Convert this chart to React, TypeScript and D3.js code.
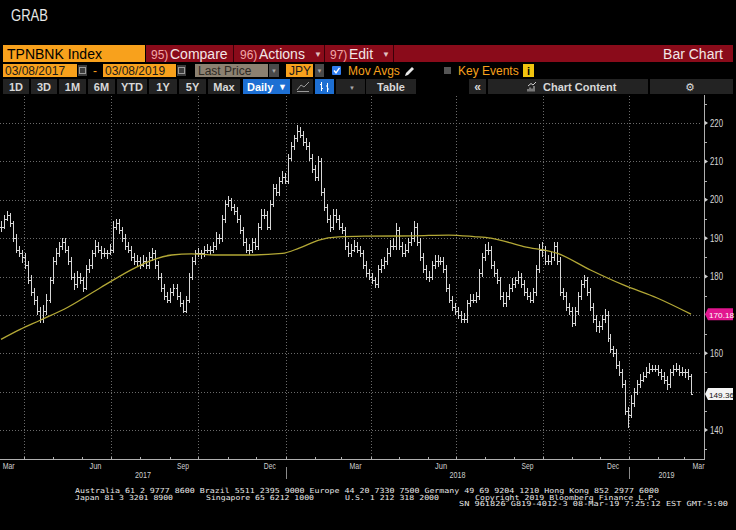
import React from 'react';
import * as d3 from 'd3';

// ---------- DATA ----------
const rangeStart = '2017-03-08';
const rangeEnd = '2019-03-08';

// bar closes (one bar every ~3.2 calendar days)
const closes = [193,195,196,194,190,187,186,185,183,179, 176,174,171,169,171,174,179,184,186,188, 189,187,184,180,178,180,179,177,182,183, 186,188,187,186,186,186,187,193,194,192, 190,188,187,185,184,184,183,184,183,185, 186,183,180,177,175,174,176,177,175,173, 171,174,180,184,186,186,186,187,187,187, 188,190,190,195,199,200,198,197,195,192, 189,187,187,189,188,193,196,196,193,199, 203,202,205,206,205,211,214,216,218,217, 215,214,211,208,206,210,202,198,195,193, 196,195,193,192,188,186,187,188,187,186, 183,181,180,179,178,182,183,184,186,188, 188,192,188,186,187,189,190,193,189,185, 182,180,180,183,184,184,184,182,177,174, 172,171,170,169,169,173,174,174,175,181, 185,187,187,183,181,179,175,173,175,177, 178,179,180,178,176,175,174,176,182,187, 187,184,184,185,188,184,176,175,172,171, 168,171,175,178,179,176,172,169,167,167, 169,170,164,161,160,157,155,152,145,144, 147,150,152,153,154,155,156,156,156,155, 154,153,152,155,156,156,155,155,155,154, 149.36];

const highs = [194.5,196,197,196.5,194.5,191,188,187,186,184, 180.5,177,175,172,172.5,175.5,180,185,187.5,189, 190,190,188,185,181,181.5,181,180,183,184.5, 187,189.5,189,188,187.5,187,188.5,194.5,195,195, 193,191,189,188,186,185.5,185,185.5,185,186.5, 187.5,187,184,181,178,176,177,178,178,176, 174,175,181,185,187,187.5,187,188,188.5,188, 189,191.5,191,196,200,201,200.5,199,198,196, 193,190,188.5,190,190,194,197.5,197.5,197,200, 204,204,206,207.5,207,212,215,217,219.5,219, 218,216,215,212,209,211.5,211,203,199,196, 197.5,197.5,196,194,193,189,188.5,189.5,189,188, 187,184,182,181,180,183,184.5,185,187.5,189.5, 190,194,193,189,188.5,190,191.5,194.5,194,190, 186,183,181.5,184,185.5,185.5,185,185,183,178, 175,173,172,171,170.5,174,175.5,175.5,176,182, 186,188.5,189,188,184,182,180,176,176,178, 179.5,180,181.5,181,179,177,176,177,183,188.5, 189,188,185.5,186.5,189,189,185,177,176,173, 172,172,176,179,180.5,180,177,173,170,168.5, 170,171.5,171,165,162,161,158,156,153,146, 149,151,153,154.5,155,156.5,157.5,157,157,157, 156,155,154,156,157,157.5,157,156.5,156,156, 154.5];

const lows = [191.5,192.5,194.5,193,189,186,185,183.5,182,178, 175,172.5,170,167.8,168,170,173,178,183,185, 187,186,183,179,176.5,177,178,176,176.5,181, 182,185,186,184.5,185,184.5,185.5,186,192,191, 189,187,186,184,183,182.5,182,182.5,182,182, 184,182,179,176,174,173,173,175,174,172, 170.5,170.5,173,179,183,185,184.5,185,186,185.5, 186,187,188.5,189,194,198,197,196,194,191, 188,186,185.5,186,187,187,192,195,192,192, 198,201,201,204,204,204,210,213,215,216, 214,213,210,207,205,205,201,197,194,191.5, 192,194,192,191,187,185,185,186.5,186,185, 182,180,179,178,177,177,181,182,183,185, 187,187,187,185,185,186,188,189,188,184, 181,179,178.5,179,182,182.5,183,181,176,173, 171,170,169,167.8,168,168,172,173,173,174, 180,184,185.5,182,180,178,174,172,172,174, 176,177,178,177,175,174,173,173,175,181, 185,183,183,183,184,183,175,174,171,170, 166.8,167,170,174,177,175,171,168,165.5,165.3, 166,168,163,160,159,156,154,151,144,140.5, 143,146,149,151,152.5,153.5,154.5,155,155,154, 153,152,150.5,151,154,155,154,154,153.5,153, 149];

// moving average
const maDates = ['2017-03-08','2017-03-28','2017-04-18','2017-05-17','2017-06-21','2017-07-26','2017-08-13','2017-09-03','2017-09-24','2017-10-18','2017-11-26','2017-12-28','2018-01-15','2018-02-05','2018-02-26','2018-03-26','2018-05-18','2018-06-23','2018-07-20','2018-08-07','2018-09-11','2018-10-17','2018-11-21','2018-12-26','2019-01-31','2019-03-08'];
const maValues = [163.6,166.2,168.6,172,177.2,182.2,184.2,185.6,185.9,185.6,185.6,186,187.4,189.5,190.3,190.5,190.6,190.8,190.4,190,187.8,186,181.7,177.8,174.4,170.18];

const yTicks = [140,150,160,170,180,190,200,210,220];
const yMinorTicks = [135,145,155,165,175,185,195,205,215,225];
const gridDates = ['2017-04-01','2017-07-01','2017-10-01','2018-01-01','2018-04-01','2018-07-01','2018-10-01','2019-01-01'];
const monthLabels = ['Mar','Jun','Sep','Dec','Mar','Jun','Sep','Dec','Mar'];
const monthLabelDates = ['2017-03-16','2017-06-15','2017-09-15','2017-12-15','2018-03-16','2018-06-15','2018-09-15','2018-12-15','2019-03-16'];
const yearLabels = ['2017','2018','2019'];
const yearDividers = ['2018-01-01','2019-01-01'];
const lastMA = 170.18;
const lastPrice = 149.36;

const footer1 = 'Australia 61 2 9777 8600 Brazil 5511 2395 9000 Europe 44 20 7330 7500 Germany 49 69 9204 1210 Hong Kong 852 2977 6000';
const footer2 = ['Japan 81 3 3201 8900', 'Singapore 65 6212 1000', 'U.S. 1 212 318 2000', 'Copyright 2019 Bloomberg Finance L.P.'];
const footer3 = 'SN 961826 G819-4012-3 08-Mar-19  7:25:12 EST  GMT-5:00';

const periodButtons = ['1D','3D','1M','6M','YTD','1Y','5Y','Max'];

// ---------- LAYOUT ----------
const W = 736, H = 530;
const plotTop = 96, plotBottom = 459, axisX = 704;
const parse = d3.timeParse('%Y-%m-%d');

const FONT = '"Liberation Sans Narrow", "Liberation Sans", Arial, sans-serif';
const UIFONT = '"Liberation Sans", Arial, sans-serif';
const ORANGE = '#f8a11c';
const RED = '#8a0b1a';

export default function App() {
  const x = d3.scaleTime()
    .domain([parse('2017-03-08')!, parse('2017-04-01')!, parse('2018-01-01')!, parse('2019-01-01')!, parse('2019-03-08')!])
    .range([1, 24, 286, 629, 691]);
  const y = d3.scaleLinear().domain([140, 220]).range([430, 123]);

  const t0 = parse(rangeStart)!.getTime();
  const t1 = parse(rangeEnd)!.getTime();
  const n = closes.length;
  const barDates = d3.range(n).map(i => new Date(t0 + (t1 - t0) * i / (n - 1)));

  const maLine = d3.line<number>()
    .x((_, i) => x(parse(maDates[i])!))
    .y(v => y(v))
    .curve(d3.curveMonotoneX);

  const monthTicks = d3.timeMonth.range(parse('2017-04-01')!, parse('2019-03-02')!);
  const px = (v: number) => Math.round(v) + 0.5;

  // tick labels hidden behind the last-value tags
  const visibleTicks = yTicks.filter(v => Math.abs(y(v) - y(lastMA)) > 10 && Math.abs(y(v) - y(lastPrice)) > 10);

  const btnX = [3, 31, 59, 88, 117, 149, 179, 208];
  const btnW = [26, 26, 27, 27, 30, 28, 27, 32];

  return (
    <svg width={W} height={H} style={{ position: 'absolute', left: 0, top: 0, display: 'block', background: '#000' }}>
      <rect x={0} y={0} width={W} height={H} fill="#000" />
      {/* title */}
      <text x={11} y={21} fill="#e8e8e8" fontFamily={FONT} fontSize={16} textLength={37} lengthAdjust="spacingAndGlyphs">GRAB</text>

      {/* row 1 */}
      <rect x={3} y={45} width={142} height={17} fill={ORANGE} />
      <text x={7} y={58.5} fontFamily={UIFONT} fontSize={14} fill="#000">TPNBNK Index</text>
      <rect x={146} y={45} width={587} height={17} fill={RED} />
      {[233.5, 324.5, 393.5].map(v => <line key={v} x1={v} x2={v} y1={45} y2={62} stroke="#3a0008" />)}
      <text x={151} y={58.5} fontFamily={FONT} fontSize={12} fill="#f2a7a7">95)</text>
      <text x={170} y={58.5} fontFamily={UIFONT} fontSize={14} fill="#f3e6e6">Compare</text>
      <text x={240} y={58.5} fontFamily={FONT} fontSize={12} fill="#f2a7a7">96)</text>
      <text x={259} y={58.5} fontFamily={UIFONT} fontSize={14} fill="#f3e6e6">Actions</text>
      <text x={314} y={57} fontFamily={UIFONT} fontSize={8} fill="#e0c0c0">▼</text>
      <text x={330} y={58.5} fontFamily={FONT} fontSize={12} fill="#f2a7a7">97)</text>
      <text x={349} y={58.5} fontFamily={UIFONT} fontSize={14} fill="#f3e6e6">Edit</text>
      <text x={382} y={57} fontFamily={UIFONT} fontSize={8} fill="#e0c0c0">▼</text>
      <text x={723} y={58.5} textAnchor="end" fontFamily={UIFONT} fontSize={14} fill="#f3e6e6">Bar Chart</text>

      {/* row 2 */}
      <rect x={3} y={64} width={74} height={13} fill={ORANGE} />
      <text x={5} y={75} fontFamily={UIFONT} fontSize={12} fill="#1a1a1a">03/08/2017</text>
      <rect x={78} y={65} width={9} height={11} fill="#3c3c3c" />
      <rect x={79.5} y={67.5} width={6} height={6} fill="none" stroke="#9a9a9a" />
      <text x={93} y={75} fontFamily={UIFONT} fontSize={12} fill={ORANGE}>-</text>
      <rect x={103} y={64} width={73} height={13} fill={ORANGE} />
      <text x={105} y={75} fontFamily={UIFONT} fontSize={12} fill="#1a1a1a">03/08/2019</text>
      <rect x={177} y={65} width={9} height={11} fill="#3c3c3c" />
      <rect x={178.5} y={67.5} width={6} height={6} fill="none" stroke="#9a9a9a" />
      <rect x={195} y={64} width={73} height={13} fill="#8c8171" />
      <text x={198} y={75} fontFamily={UIFONT} fontSize={12} fill="#2e2a24">Last Price</text>
      <rect x={269} y={64} width={10} height={13} fill="#4a4a4a" />
      <text x={271} y={73} fontFamily={UIFONT} fontSize={6} fill="#aaa">▼</text>
      <rect x={286} y={64} width={27} height={13} fill={ORANGE} />
      <text x={289} y={75} fontFamily={UIFONT} fontSize={12} fill="#1a1a1a">JPY</text>
      <rect x={315} y={64} width={9} height={13} fill="#4a4a4a" />
      <text x={316.5} y={73} fontFamily={UIFONT} fontSize={6} fill="#aaa">▼</text>
      <rect x={332} y={66} width={9} height={9} fill="#2f7df0" rx={1} />
      <path d="M334,70.5 L336,72.8 L339.5,67.8" fill="none" stroke="#fff" strokeWidth={1.4} />
      <text x={348} y={75} fontFamily={UIFONT} fontSize={12} fill={ORANGE}>Mov Avgs</text>
      <path d="M405,76 L406,73 L412,67 L414,69 L408,75 Z" fill="#e8e8e8" />
      <rect x={444} y={67} width={7} height={7} fill="#555" />
      <text x={458} y={75} fontFamily={UIFONT} fontSize={12} fill={ORANGE}>Key Events</text>
      <rect x={523} y={64} width={11} height={13} fill="#f1c40f" />
      <text x={528.5} y={75} textAnchor="middle" fontFamily={UIFONT} fontWeight="bold" fontSize={11} fill="#000">i</text>

      {/* row 3 */}
      {periodButtons.map((b, i) => (
        <g key={b}>
          <rect x={btnX[i]} y={79} width={btnW[i]} height={15} fill="#232323" />
          <text x={btnX[i] + btnW[i] / 2} y={90.5} textAnchor="middle" fontFamily={UIFONT} fontWeight="bold" fontSize={11} fill="#d8d8d8">{b}</text>
        </g>
      ))}
      <rect x={243} y={79} width={47} height={15} fill="#1d6fd3" />
      <text x={247} y={90.5} fontFamily={UIFONT} fontWeight="bold" fontSize={11} fill="#fff">Daily</text>
      <text x={278} y={90} fontFamily={UIFONT} fontSize={9} fill="#fff">▼</text>
      <rect x={292} y={79} width={21} height={15} fill="#232323" />
      <path d="M297,90 L301,85 L304,87 L309,82" fill="none" stroke="#9a9a9a" strokeWidth={1} />
      <line x1={297} x2={309} y1={91.5} y2={91.5} stroke="#9a9a9a" />
      <rect x={315} y={79} width={19} height={15} fill="#1d6fd3" />
      <path d="M321.5,82 V91 M320,84.5 H321.5 M321.5,88.5 H323 M327.5,83 V92 M326,86 H327.5 M327.5,89 H329" fill="none" stroke="#fff" strokeWidth={1} />
      <rect x={336} y={79} width={29} height={15} fill="#232323" />
      <text x={349} y={89.5} fontFamily={UIFONT} fontSize={6} fill="#aaa">▼</text>
      <rect x={366} y={79} width={50} height={15} fill="#232323" />
      <text x={391} y={90.5} textAnchor="middle" fontFamily={UIFONT} fontWeight="bold" fontSize={11} fill="#d8d8d8">Table</text>
      <rect x={469} y={79} width={17} height={15} fill="#232323" />
      <text x={477.5} y={90.5} textAnchor="middle" fontFamily={UIFONT} fontWeight="bold" fontSize={12} fill="#d8d8d8">«</text>
      <rect x={488} y={79} width={160} height={15} fill="#232323" />
      <path d="M528,91.5 V89 M530,91.5 V87.5 M532,91.5 V88.5 M534,91.5 V86" stroke="#cfcfcf" strokeWidth={1} />
      <path d="M528,86 L531,83.5 L533,85 L536,82" fill="none" stroke="#cfcfcf" strokeWidth={1} />
      <text x={543} y={90.5} fontFamily={UIFONT} fontWeight="bold" fontSize={11} fill="#d8d8d8">Chart Content</text>
      <rect x={650} y={79} width={83} height={15} fill="#232323" />
      <text x={690} y={91} textAnchor="middle" fontFamily="DejaVu Sans" fontSize={11} fill="#d8d8d8">⚙</text>

      {/* gridlines */}
      {yTicks.map(v => (
        <line key={'h' + v} x1={0} x2={axisX - 2} y1={px(y(v))} y2={px(y(v))} stroke="#6a6a6a" strokeDasharray="1,2" />
      ))}
      {gridDates.map(d => (
        <line key={'v' + d} x1={px(x(parse(d)!))} x2={px(x(parse(d)!))} y1={plotTop} y2={plotBottom} stroke="#6a6a6a" strokeDasharray="1,2" />
      ))}

      {/* price bars */}
      <g stroke="#d6d6d6" strokeWidth={1} shapeRendering="crispEdges">
        {barDates.map((d, i) => {
          const cx = Math.round(x(d));
          const prev = i > 0 ? closes[i - 1] : closes[0];
          const yo = px(y(prev));
          const yc = px(y(closes[i]));
          return (
            <g key={i}>
              <line x1={cx + 0.5} x2={cx + 0.5} y1={y(highs[i])} y2={y(lows[i])} />
              <line x1={cx - 1} x2={cx} y1={yo} y2={yo} />
              <line x1={cx + 1} x2={cx + 2} y1={yc} y2={yc} />
            </g>
          );
        })}
      </g>

      {/* moving average */}
      <path d={maLine(maValues) || ''} fill="none" stroke="#b3a836" strokeWidth={1.3} />

      {/* y axis */}
      <line x1={axisX + 0.5} x2={axisX + 0.5} y1={95} y2={plotBottom + 1} stroke="#b0b0b0" />
      {yMinorTicks.map(v => (
        <line key={'m' + v} x1={axisX} x2={axisX + 3} y1={px(y(v))} y2={px(y(v))} stroke="#b0b0b0" />
      ))}
      {visibleTicks.map(v => (
        <g key={'t' + v}>
          <path d={`M${axisX + 1},${y(v) - 2} L${axisX + 4},${y(v)} L${axisX + 1},${y(v) + 2} Z`} fill="#d0d0d0" />
          <text x={axisX + 6} y={y(v) + 3.5} fontFamily={FONT} fontSize={10} fill="#d8d8d8" textLength={13} lengthAdjust="spacingAndGlyphs">{v}</text>
        </g>
      ))}
      {/* last value tags */}
      <path d={`M${axisX + 1},${y(lastMA)} L${axisX + 4},${y(lastMA) - 6} H733 V${y(lastMA) + 6} H${axisX + 4} Z`} fill="#e2168f" />
      <text x={axisX + 5} y={y(lastMA) + 3.5} fontFamily={FONT} fontSize={8} fill="#fff" textLength={25} lengthAdjust="spacingAndGlyphs">{lastMA.toFixed(2)}</text>
      <path d={`M${axisX + 1},${y(lastPrice)} L${axisX + 4},${y(lastPrice) - 6} H733 V${y(lastPrice) + 6} H${axisX + 4} Z`} fill="#f4f4f4" />
      <text x={axisX + 5} y={y(lastPrice) + 3.5} fontFamily={FONT} fontSize={8} fill="#111" textLength={25} lengthAdjust="spacingAndGlyphs">{lastPrice.toFixed(2)}</text>

      {/* x axis */}
      <line x1={0} x2={axisX + 1} y1={plotBottom + 0.5} y2={plotBottom + 0.5} stroke="#b0b0b0" />
      {monthTicks.map(d => (
        <line key={'mt' + d.getTime()} x1={px(x(d))} x2={px(x(d))} y1={plotBottom - 2} y2={plotBottom} stroke="#b0b0b0" />
      ))}
      {monthLabels.map((m, i) => (
        <text key={'ml' + i} x={x(parse(monthLabelDates[i])!)} y={469} textAnchor="middle" fontFamily={FONT} fontSize={9} fill="#cfcfcf" textLength={12} lengthAdjust="spacingAndGlyphs">{m}</text>
      ))}
      {yearDividers.map(d => (
        <line key={'yd' + d} x1={px(x(parse(d)!))} x2={px(x(parse(d)!))} y1={467} y2={479} stroke="#8a8a8a" />
      ))}
      {yearLabels.map((yl, i) => {
        const edges = [0, x(parse(yearDividers[0])!), x(parse(yearDividers[1])!), axisX];
        return <text key={yl} x={(edges[i] + edges[i + 1]) / 2} y={478} textAnchor="middle" fontFamily={FONT} fontSize={9} fill="#cfcfcf" textLength={16} lengthAdjust="spacingAndGlyphs">{yl}</text>;
      })}

      {/* footer */}
      <g fontFamily='"DejaVu Sans Mono", monospace' fontSize={7} fill="#e6e6e6">
        <text x={75} y={493} textLength={584} lengthAdjust="spacingAndGlyphs">{footer1}</text>
        <text x={75} y={499.5} textLength={98} lengthAdjust="spacingAndGlyphs">{footer2[0]}</text>
        <text x={206} y={499.5} textLength={108} lengthAdjust="spacingAndGlyphs">{footer2[1]}</text>
        <text x={345} y={499.5} textLength={94} lengthAdjust="spacingAndGlyphs">{footer2[2]}</text>
        <text x={475} y={499.5} textLength={183} lengthAdjust="spacingAndGlyphs">{footer2[3]}</text>
        <text x={459} y={506} textLength={269} lengthAdjust="spacingAndGlyphs">{footer3}</text>
      </g>
    </svg>
  );
}
